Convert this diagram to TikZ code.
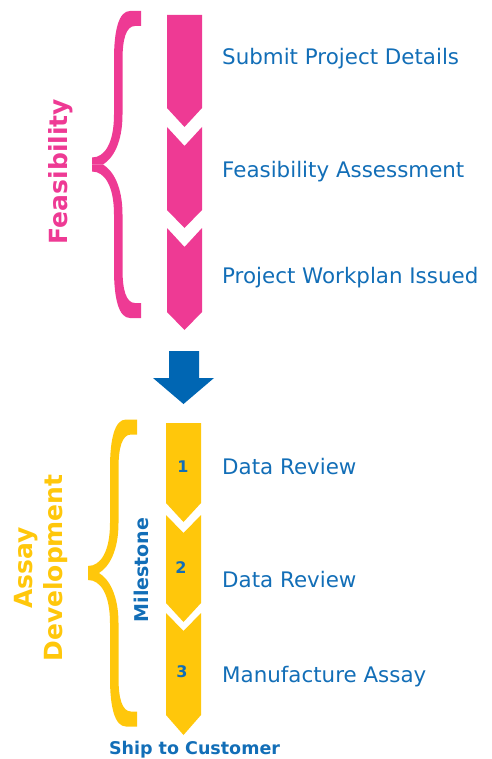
\documentclass[tikz,border=0pt]{standalone}
\usepackage{fontspec}
\setmainfont{DejaVu Sans}
\definecolor{feaspink}{RGB}{238,58,148}
\definecolor{assayyellow}{RGB}{255,199,11}
\definecolor{stepblue}{RGB}{0,102,179}
\definecolor{textblue}{RGB}{18,110,183}
\tikzset{
  steptext/.style={anchor=base west, text=textblue, inner sep=0pt, font=\fontsize{21.4}{25}\selectfont},
  stepnum/.style={text=textblue, inner sep=0pt, font=\bfseries\fontsize{16}{18}\selectfont},
  phasetext/.style={rotate=90, align=center, font=\bfseries\fontsize{25}{30}\selectfont},
}
% half of a curly brace, tip at the origin's left, end at (0,-153.5)
\def\halfbrace{(0,-153.5) -- (-11,-153.5) .. controls (-22,-153.5) and (-27,-135) .. (-27,-105)
  -- (-27,-50) .. controls (-27,-22) and (-36,-7) .. (-49,-7) -- (-49,0) -- (-38,0)
  .. controls (-28,-6) and (-18.5,-22) .. (-18.5,-50) -- (-18.5,-105)
  .. controls (-18.5,-125) and (-15,-138.5) .. (-6,-138.5) -- (0,-138.5) -- cycle}
\begin{document}
\begin{tikzpicture}[x=1pt, y=-1pt, line join=miter]
			\useasboundingbox (0,0) rectangle (491,759);
			% feasibility chevrons
			\fill[feaspink] (167,15) -- (202,15) -- (202,108) -- (184.5,127) -- (167,108) -- cycle;
			\foreach \t/\b in {127/210, 228/312}
				\fill[feaspink] (167,\t) -- (184.5,\t+19) -- (202,\t) -- (202,\b) -- (184.5,\b+18) -- (167,\b) -- cycle;
			\foreach \s in {1,-1}
				\fill[feaspink, shift={(141,164.5)}, yscale=\s] \halfbrace;
			\node[phasetext, text=feaspink] (feas) at (60.5,171.5) {Feasibility};
			\node[steptext] (submit) at (222,65) {Submit Project Details};
			\node[steptext] (assess) at (222,178) {Feasibility Assessment};
			\node[steptext] (workplan) at (222,283) {Project Workplan Issued};
			% arrow between phases
			\fill[stepblue] (169,351) -- (199,351) -- (199,378) -- (214,378) -- (183.5,404) -- (153,378) -- (169,378) -- cycle;
			% assay chevrons
			\fill[assayyellow] (166,423) -- (201,423) -- (201,503) -- (183.5,522) -- (166,503) -- cycle;
			\foreach \t/\b/\e in {515/603/19, 613/715/20}
				\fill[assayyellow] (166,\t) -- (183.5,\t+18) -- (201,\t) -- (201,\b) -- (183.5,\b+\e) -- (166,\b) -- cycle;
			\foreach \s in {1,-1}
				\fill[assayyellow, shift={(137,573)}, yscale=\s] \halfbrace;
			\node[phasetext, text=assayyellow] (assay) at (41,568) {Assay\\Development};
			\node[rotate=90, text=textblue, font=\bfseries\fontsize{19}{22}\selectfont] (milestone) at (141,570) {Milestone};
			\node[stepnum] (m1) at (183,467) {1};
			\node[stepnum] (m2) at (181,568) {2};
			\node[stepnum] (m3) at (182,672) {3};
			\node[steptext] (review1) at (222,474) {Data Review};
			\node[steptext] (review2) at (222,587) {Data Review};
			\node[steptext] (manuf) at (222,682) {Manufacture Assay};
			\node[anchor=base, text=textblue, inner sep=0pt, font=\bfseries\fontsize{17.5}{20}\selectfont] (ship) at (194.5,754) {Ship to Customer};
		\end{tikzpicture}
\end{document}
